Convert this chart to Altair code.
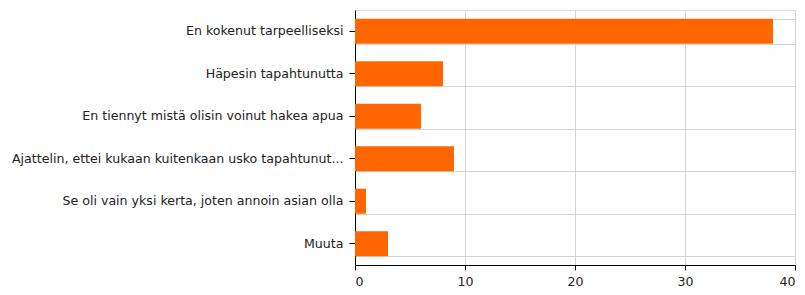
import altair as alt
import pandas as pd

categories = [
    "En kokenut tarpeelliseksi",
    "Häpesin tapahtunutta",
    "En tiennyt mistä olisin voinut hakea apua",
    "Ajattelin, ettei kukaan kuitenkaan usko tapahtunut...",
    "Se oli vain yksi kerta, joten annoin asian olla",
    "Muuta",
]
values = [38, 8, 6, 9, 1, 3]
x_ticks = [0, 10, 20, 30, 40]

df = pd.DataFrame({"cat": categories, "val": values})

yscale = alt.Scale(domain=categories, paddingInner=0.41, paddingOuter=0.205)
xscale = alt.Scale(domain=[0, 40], nice=False)

xaxis = alt.Axis(title=None, values=x_ticks, grid=True, gridColor="#d4d4d4",
                 domainColor="#000", tickColor="#000", tickSize=5,
                 labelFont="DejaVu Sans", labelFontSize=12.6, labelColor="#222",
                 labelPadding=5)

grid_layer = alt.Chart(df).mark_bar(opacity=0).encode(
    x=alt.X("val:Q", scale=xscale, axis=xaxis),
    y=alt.Y("cat:N", sort=categories, scale=yscale,
            axis=alt.Axis(title=None, labels=False, ticks=False, domain=False,
                          grid=True, tickBand="extent", gridColor="#d4d4d4",
                          orient="left")),
)

bars = alt.Chart(df).mark_bar(color="#FF6600").encode(
    x=alt.X("val:Q", scale=xscale, axis=xaxis),
    y=alt.Y("cat:N", sort=categories, scale=yscale,
            axis=alt.Axis(title=None, grid=False, domainColor="#000", tickColor="#000",
                          tickSize=6, labelFont="DejaVu Sans", labelFontSize=12.6,
                          labelColor="#222", labelLimit=400, labelPadding=6,
                          orient="left")),
)

chart = alt.layer(grid_layer, bars).resolve_axis(y="independent").properties(
    width=440, height=255,
    autosize=alt.AutoSizeParams(type="none"),
    padding={"left": 347, "top": 2, "right": 2, "bottom": 22},
).configure_view(stroke=None).configure(background="white")

chart.save("out.html", embed_options={"renderer": "svg", "actions": False})
